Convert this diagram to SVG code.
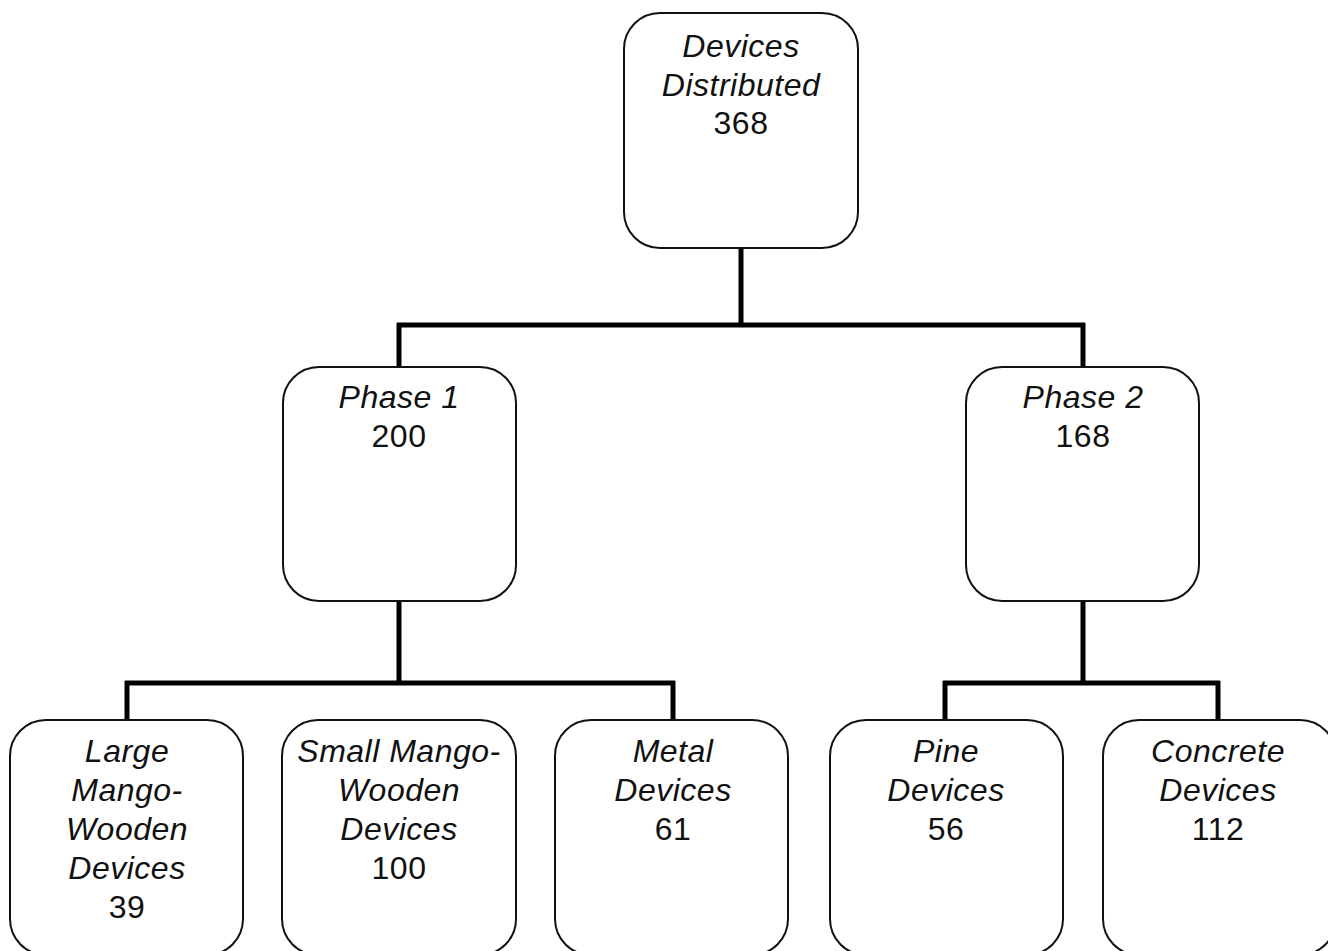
<svg xmlns="http://www.w3.org/2000/svg" width="1328" height="951" viewBox="0 0 1328 951">
<style>
.box{fill:#fff;stroke:#111;stroke-width:2}
.t{font-family:"Liberation Sans",Arial,sans-serif;font-size:32px;text-anchor:middle;fill:#111;letter-spacing:0.5px}
.i{font-style:italic}
.c{fill:none;stroke:#000;stroke-width:5}
</style>
<rect width="1328" height="951" fill="#fff"/>
<g id="connectors">
<path class="c" d="M741 248V325M397 325H1085M399 323V367M1083 323V367"/>
<path class="c" d="M399 601V683M125 683H675M127 681V720M673 681V720"/>
<path class="c" d="M1083 601V683M943 683H1220M945 681V720M1218 681V720"/>
</g>
<g id="root">
<rect class="box" x="624" y="13" width="234" height="235" rx="36"/>
<text class="t i" x="741" y="57">Devices</text>
<text class="t i" x="741" y="96">Distributed</text>
<text class="t" x="741" y="134">368</text>
</g>
<g id="phase1">
<rect class="box" x="283" y="367" width="233" height="234" rx="36"/>
<text class="t i" x="399" y="408">Phase 1</text>
<text class="t" x="399" y="447">200</text>
</g>
<g id="phase2">
<rect class="box" x="966" y="367" width="233" height="234" rx="36"/>
<text class="t i" x="1083" y="408">Phase 2</text>
<text class="t" x="1083" y="447">168</text>
</g>
<g id="large">
<rect class="box" x="10" y="720" width="233" height="235" rx="36"/>
<text class="t i" x="127" y="762">Large</text>
<text class="t i" x="127" y="801">Mango-</text>
<text class="t i" x="127" y="840">Wooden</text>
<text class="t i" x="127" y="879">Devices</text>
<text class="t" x="127" y="918">39</text>
</g>
<g id="small">
<rect class="box" x="282" y="720" width="234" height="235" rx="36"/>
<text class="t i" x="399" y="762">Small Mango-</text>
<text class="t i" x="399" y="801">Wooden</text>
<text class="t i" x="399" y="840">Devices</text>
<text class="t" x="399" y="879">100</text>
</g>
<g id="metal">
<rect class="box" x="555" y="720" width="233" height="235" rx="36"/>
<text class="t i" x="673" y="762">Metal</text>
<text class="t i" x="673" y="801">Devices</text>
<text class="t" x="673" y="840">61</text>
</g>
<g id="pine">
<rect class="box" x="830" y="720" width="233" height="235" rx="36"/>
<text class="t i" x="946" y="762">Pine</text>
<text class="t i" x="946" y="801">Devices</text>
<text class="t" x="946" y="840">56</text>
</g>
<g id="concrete">
<rect class="box" x="1103" y="720" width="233" height="235" rx="36"/>
<text class="t i" x="1218" y="762">Concrete</text>
<text class="t i" x="1218" y="801">Devices</text>
<text class="t" x="1218" y="840">112</text>
</g>
</svg>
